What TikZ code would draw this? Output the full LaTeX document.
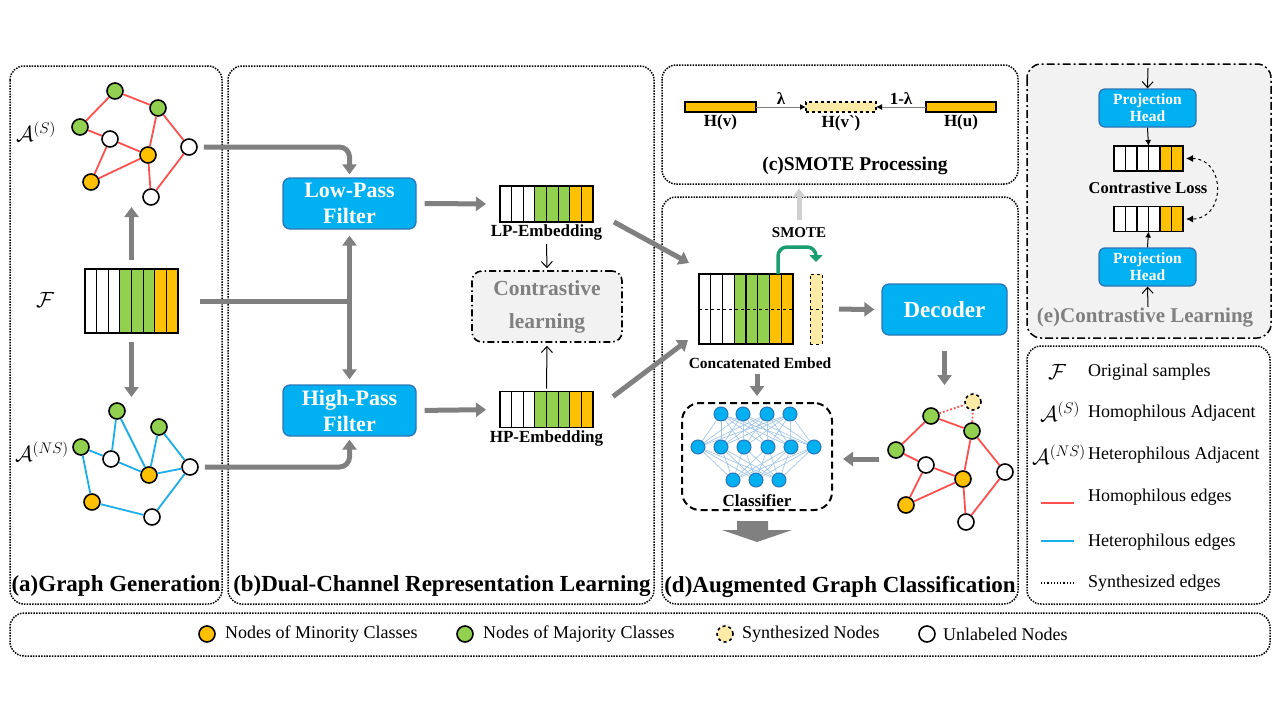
\documentclass[tikz,border=0pt]{standalone}
\usepackage{fix-cm}
\usepackage{fontspec}
\setmainfont{Liberation Serif}
\usetikzlibrary{arrows.meta,positioning,calc}
\definecolor{grn}{HTML}{92D050}
\definecolor{org}{HTML}{FFC000}
\definecolor{synyellow}{HTML}{FCEBA6}
\definecolor{cyanbox}{HTML}{00B0F0}
\definecolor{boxedge}{HTML}{2E75B6}
\definecolor{redline}{HTML}{FF5050}
\definecolor{blueline}{HTML}{1AAEEA}
\definecolor{arrgray}{HTML}{808080}
\definecolor{lightarr}{HTML}{D0D0D0}
\definecolor{panelgray}{HTML}{F2F2F2}
\definecolor{nnline}{HTML}{9DC3E6}
\definecolor{smotegreen}{HTML}{1A9E70}
\tikzset{
  panel/.style={line width=1.5pt, dash pattern=on 1.5pt off 1.2pt, rounded corners=14pt},
  ttl/.style={font=\fontsize{23}{26}\selectfont\bfseries},
  filt/.style={draw=boxedge, fill=cyanbox, line width=1.3pt, rounded corners=7pt, text=white, align=center,
    font=\fontsize{22}{26}\selectfont\bfseries, minimum width=133pt, minimum height=51pt},
  gnode/.style={circle, draw, line width=1.6pt, minimum size=16pt, inner sep=0pt},
  nnode/.style={circle, draw=boxedge, fill=cyanbox, line width=1pt, minimum size=14pt, inner sep=0pt},
  hom/.style={draw=redline, line width=1.8pt},
  het/.style={draw=blueline, line width=1.8pt},
  grayarrow/.style={draw=arrgray, line width=5pt, -{Triangle[length=10pt,width=14pt]}},
  grayline/.style={draw=arrgray, line width=5pt},
  thinarrow/.style={line width=1pt, -{Straight Barb[length=6pt,width=11pt]}},
  smallarrow/.style={draw=arrgray, line width=1pt, -{Latex[length=6pt,width=6pt,black]}},
  cell/.style={draw, line width=1.1pt},
  vec/.style={inner sep=0pt, outer sep=0pt},
  emblab/.style={font=\fontsize{17}{18}\selectfont\bfseries, inner sep=1pt},
  leg/.style={font=\fontsize{18}{20}\selectfont, anchor=west, inner sep=0pt},
  mathlab/.style={font=\fontsize{22}{23}\selectfont, inner sep=0pt}
}
\begin{document}
\begin{tikzpicture}[x=1pt,y=-1pt]
\useasboundingbox (0,0) rectangle (1280,720);
\fill[white] (0,0) rectangle (1280,720);
% panels
\draw[panel] (10,66) rectangle (222,604);
\draw[panel] (228,66) rectangle (654,604);
\draw[panel] (662,65) rectangle (1018,184);
\draw[panel] (662,197) rectangle (1018,604);
\draw[fill=panelgray, line width=1.5pt, dash pattern=on 8pt off 3pt on 2pt off 3pt, rounded corners=14pt] (1027,64) rectangle (1271,338);
\draw[panel] (1027,346) rectangle (1270,604);
\draw[panel] (10,613) rectangle (1270,656);
\node[ttl] (ta) at (116,586) {(a)Graph Generation};
\node[ttl] (tb) at (442,586) {(b)Dual-Channel Representation Learning};
\node[font=\fontsize{19.5}{22}\selectfont\bfseries] (ctitle) at (855,166) {(c)SMOTE Processing};
\node[ttl] (td) at (840,587) {(d)Augmented Graph Classification};
\node[font=\fontsize{21}{24}\selectfont\bfseries, text=arrgray] (te) at (1145,318) {(e)Contrastive Learning};

% (a) graphs
\node[mathlab] (las) at (36,132) {$\mathcal{A}^{(S)}$};
\node[mathlab] (lans) at (42,452) {$\mathcal{A}^{(NS)}$};
\node[mathlab] (lf) at (45,300) {$\mathcal{F}$};
\foreach \nm/\x/\y/\c in {sg1/115/91/grn, sg2/158/108/grn, sg3/80/127/grn, sw1/110/139/white,
    so1/148/155/org, sw2/189/147/white, so2/91/182/org, sw3/151/197/white}
  \node[gnode, fill=\c] (\nm) at (\x,\y) {};
\foreach \a/\b in {sg1/sg2, sg1/sg3, sg3/sw1, sw1/so1, sw1/so2, so2/so1, so1/sg2, so1/sw3, sw3/sw2, sw2/sg2}
  \draw[hom] (\a) -- (\b);
\foreach \nm/\x/\y/\c in {ng1/117/411/grn, ng2/159/427/grn, ng3/81/447/grn, nw1/111/459/white,
    no1/149/475/org, nw2/190/467/white, no2/92/502/org, nw3/152/517/white}
  \node[gnode, fill=\c] (\nm) at (\x,\y) {};
\foreach \a/\b in {ng3/nw1, nw1/ng1, ng1/no1, no1/ng2, ng2/nw2, no1/nw2, nw1/no1, ng3/no2, no2/nw3, nw3/nw2}
  \draw[het] (\a) -- (\b);
\node[vec, minimum width=93pt, minimum height=64pt] (fvec) at (131.5,301) {};
\foreach \c [count=\i from 0] in {white,white,white,grn,grn,grn,org,org}
  \draw[cell, fill=\c] ($(fvec.north west)+(\i*11.625,0)$) rectangle +(11.625,64);
\coordinate (topin) at (131.5,207);
\coordinate (botin) at (131.5,397);
\draw[grayarrow, shorten <=9pt] (fvec.north) -- (topin);
\draw[grayarrow, shorten <=9pt] (fvec.south) -- (botin);

% (b) dual channel
\node[filt] (lpf) at (349.5,203.5) {Low-Pass\\Filter};
\node[filt] (hpf) at (349.5,410.5) {High-Pass\\Filter};
\draw[grayarrow, rounded corners=10pt, shorten <=6pt, shorten >=3pt] (sw2.east) -| (lpf.north);
\draw[grayarrow, rounded corners=10pt, shorten <=6pt, shorten >=3pt] (nw2.east) -| (hpf.south);
\draw[grayline, shorten <=22pt] (fvec.east) -- (fvec.east -| lpf.south);
\draw[grayarrow, {Triangle[length=10pt,width=14pt]}-{Triangle[length=10pt,width=14pt]}, shorten <=6pt, shorten >=5pt] (lpf.south) -- (hpf.north);
\node[vec, minimum width=93pt, minimum height=36pt] (lpemb) at (546.5,204) {};
\foreach \c [count=\i from 0] in {white,white,white,grn,grn,grn,org,org}
  \draw[cell, fill=\c] ($(lpemb.north west)+(\i*11.625,0)$) rectangle +(11.625,36);
\node[vec, minimum width=93pt, minimum height=36pt] (hpemb) at (546.5,409.5) {};
\foreach \c [count=\i from 0] in {white,white,white,grn,grn,grn,org,org}
  \draw[cell, fill=\c] ($(hpemb.north west)+(\i*11.625,0)$) rectangle +(11.625,36);
\node[emblab, below=2pt of lpemb] (lplab) {LP-Embedding};
\node[emblab, below=2pt of hpemb] (hplab) {HP-Embedding};
\draw[grayarrow, shorten <=8pt, shorten >=14pt] (lpf.east) -- (lpemb.west);
\draw[grayarrow, shorten <=8pt, shorten >=14pt] (hpf.east) -- (hpemb.west);
\node[draw, fill=panelgray, dash pattern=on 7pt off 3pt on 1.5pt off 3pt, line width=1.6pt, rounded corners=10pt,
  minimum width=150pt, minimum height=71pt, text=arrgray, align=center,
  font=\fontsize{21.5}{33}\selectfont\bfseries] (clbox) at (547,306.5) {Contrastive\\learning};
\draw[thinarrow, shorten <=2pt, shorten >=2pt] (lplab.south) -- (clbox.north);
\draw[thinarrow, shorten <=3pt, shorten >=3pt] (hpemb.north) -- (clbox.south);

% (c) SMOTE
\node[vec, draw, fill=org, line width=1.1pt, minimum width=71pt, minimum height=10pt] (hv) at (720.5,107) {};
\node[vec, draw, dashed, fill=synyellow, line width=1.1pt, minimum width=70pt, minimum height=10pt] (hvp) at (841,107) {};
\node[vec, draw, fill=org, line width=1.1pt, minimum width=70pt, minimum height=10pt] (hu) at (961,107) {};
\node[emblab, below=2pt of hv] (hvl) {H(v)};
\node[emblab, below=2pt of hvp] (hvpl) {H(v\textasciigrave)};
\node[emblab, below=2pt of hu] (hul) {H(u)};
\draw[smallarrow] (hv) -- (hvp) node[midway, above, emblab, yshift=1pt] (lam) {λ};
\draw[smallarrow] (hu) -- (hvp) node[midway, above, emblab, yshift=1pt] (lamc) {1-λ};

% (d) augmented graph classification
\node[font=\fontsize{15}{16}\selectfont\bfseries] (smote) at (799,233) {SMOTE};
\draw[draw=lightarr, line width=5pt, -{Triangle[length=9pt,width=13pt]}, shorten <=4pt, shorten >=10pt] (smote.north) -- (smote.north |- ctitle.south);
\node[vec, minimum width=94pt, minimum height=70pt] (cemb) at (746,309) {};
\foreach \c [count=\i from 0] in {white,white,white,grn,grn,grn,org,org}
  \draw[cell, fill=\c] ($(cemb.north west)+(\i*11.75,0)$) rectangle +(11.75,70);
\draw[dashed, line width=1pt] (cemb.west) -- (cemb.east);
\node[vec, draw, dashed, fill=synyellow, line width=1pt, minimum width=12pt, minimum height=70pt] (syncol) at (816,309) {};
\draw[dashed, line width=1pt] (syncol.west) -- (syncol.east);
\draw[draw=smotegreen, line width=3.5pt, rounded corners=9pt, -{Triangle[length=7pt,width=13pt]}, shorten >=12pt]
  ($(cemb.north east)+(-15,0)$) |- ($(syncol.north)+(0,-27)$) -- (syncol.north);
\draw[grayarrow] ($(lpemb.south east)+(21,0)$) -- ($(cemb.north west)+(-10,-11)$);
\draw[grayarrow] ($(hpemb.north east)+(20,5)$) -- ($(cemb.south west)+(-11,-4)$);
\node[font=\fontsize{15.5}{17}\selectfont\bfseries] (celab) at (760,363) {Concatenated Embed};
\node[filt, minimum width=125pt, font=\fontsize{23}{26}\selectfont\bfseries] (dec) at (944.5,309.5) {Decoder};
\draw[grayarrow, shorten <=17pt, shorten >=7pt] (syncol.east) -- (dec.west);
\coordinate (augtop) at (944.5,385);
\draw[grayarrow, shorten <=15pt] (dec.south) -- (augtop);
\node[draw, dash pattern=on 7pt off 4pt, line width=2pt, rounded corners=18pt, minimum width=150pt, minimum height=107pt] (clf) at (757,456.5) {};
\draw[grayarrow, shorten <=2pt, shorten >=6pt] (clf.north |- celab.south) -- (clf.north);
\foreach \x [count=\i] in {721,743,767,790} \node[nnode] (na\i) at (\x,414) {};
\foreach \x [count=\i] in {698,721,744,768,791,814} \node[nnode] (nb\i) at (\x,447) {};
\foreach \x [count=\i] in {733,756,779} \node[nnode] (nc\i) at (\x,480) {};
\foreach \i in {1,...,4} \foreach \j in {1,...,6} \draw[nnline, line width=0.6pt] (na\i) -- (nb\j);
\foreach \i in {1,...,6} \foreach \j in {1,...,3} \draw[nnline, line width=0.6pt] (nb\i) -- (nc\j);
\node[font=\fontsize{17}{18}\selectfont\bfseries, inner sep=1pt] (clflab) at (757,501) {Classifier};
\fill[arrgray] (737,521) -- (768,521) -- (768,530) -- (792,530) -- (757,542) -- (722,530) -- (737,530) -- cycle;
\foreach \nm/\x/\y/\c in {ag1/931/416/grn, ag2/972/431/grn, ag3/896/450/grn, aw1/926/465/white,
    ao1/963/479/org, aw2/1005/472/white, ao2/906/505/org, aw3/966/522/white}
  \node[gnode, fill=\c] (\nm) at (\x,\y) {};
\node[gnode, fill=synyellow, dashed] (as) at (973,402) {};
\foreach \a/\b in {ag1/ag2, ag1/ag3, ag3/aw1, aw1/ao1, aw1/ao2, ao2/ao1, ao1/ag2, ao1/aw3, aw3/aw2, aw2/ag2}
  \draw[hom] (\a) -- (\b);
\draw[hom, dotted] (ag1) -- (as);
\draw[hom, dotted] (ag2) -- (as);
\coordinate (augout) at (879,459);
\draw[grayarrow, shorten >=10pt] (augout) -- (clf.east |- augout);

% (e) contrastive learning
\node[filt, minimum width=97pt, minimum height=38pt, rounded corners=6pt, font=\fontsize{15.5}{17}\selectfont\bfseries] (ph1) at (1147.5,108) {Projection\\Head};
\node[filt, minimum width=97pt, minimum height=38pt, rounded corners=6pt, font=\fontsize{15.5}{17}\selectfont\bfseries] (ph2) at (1147.5,267) {Projection\\Head};
\node[vec, minimum width=69pt, minimum height=25pt] (cv1) at (1148.5,158.5) {};
\node[vec, minimum width=69pt, minimum height=25pt] (cv2) at (1148.5,219) {};
\foreach \c [count=\i from 0] in {white,white,white,white,org,org} {
  \draw[cell, fill=\c] ($(cv1.north west)+(\i*11.5,0)$) rectangle +(11.5,25);
  \draw[cell, fill=\c] ($(cv2.north west)+(\i*11.5,0)$) rectangle +(11.5,25);
}
\node[font=\fontsize{16.5}{18}\selectfont\bfseries] (closs) at (1148,188) {Contrastive Loss};
\coordinate (ein) at (1148,68);
\coordinate (eout) at (1148,307);
\draw[thinarrow] (ein) -- (ph1.north);
\draw[thinarrow] (eout) -- (ph2.south);
\draw[line width=1pt, -{Latex[length=6pt,width=6pt]}] (ph1.south) -- (cv1.north);
\draw[line width=1pt, -{Latex[length=6pt,width=6pt]}] (ph2.north) -- (cv2.south);
\draw[dashed, line width=1pt, {Latex[length=7pt,width=7pt]}-{Latex[length=7pt,width=7pt]}]
  ($(cv1.east)+(3,0)$) .. controls +(40,0) and +(40,0) .. ($(cv2.east)+(3,0)$);

% right legend
\node[mathlab] (kf) at (1057,372) {$\mathcal{F}$};
\node[mathlab] (ks) at (1060,412) {$\mathcal{A}^{(S)}$};
\node[mathlab] (kns) at (1059,455) {$\mathcal{A}^{(NS)}$};
\node[leg] (kft) at (1088,372) {Original samples};
\node[leg] (kst) at (1088,413) {Homophilous Adjacent};
\node[leg] (knst) at (1088,455) {Heterophilous Adjacent};
\node[leg] (khom) at (1088,497) {Homophilous edges};
\node[leg] (khet) at (1088,542) {Heterophilous edges};
\node[leg] (ksyn) at (1088,583) {Synthesized edges};
\draw[hom] (1041,503) -- (1074,503);
\draw[het] (1041,541) -- (1074,541);
\draw[line width=1.2pt, dotted] (1041,583) -- (1074,583);

% bottom legend
\node[gnode, fill=org] (bo) at (207,634) {};
\node[gnode, fill=grn] (bg) at (465,634) {};
\node[gnode, fill=synyellow, dashed] (bs) at (725,634) {};
\node[gnode, fill=white] (bw) at (927,634) {};
\node[leg] (bot) at (225,634) {Nodes of Minority Classes};
\node[leg] (bgt) at (483,634) {Nodes of Majority Classes};
\node[leg] (bst) at (742,634) {Synthesized Nodes};
\node[leg] (bwt) at (943,634) {Unlabeled Nodes};
\end{tikzpicture}
\end{document}
